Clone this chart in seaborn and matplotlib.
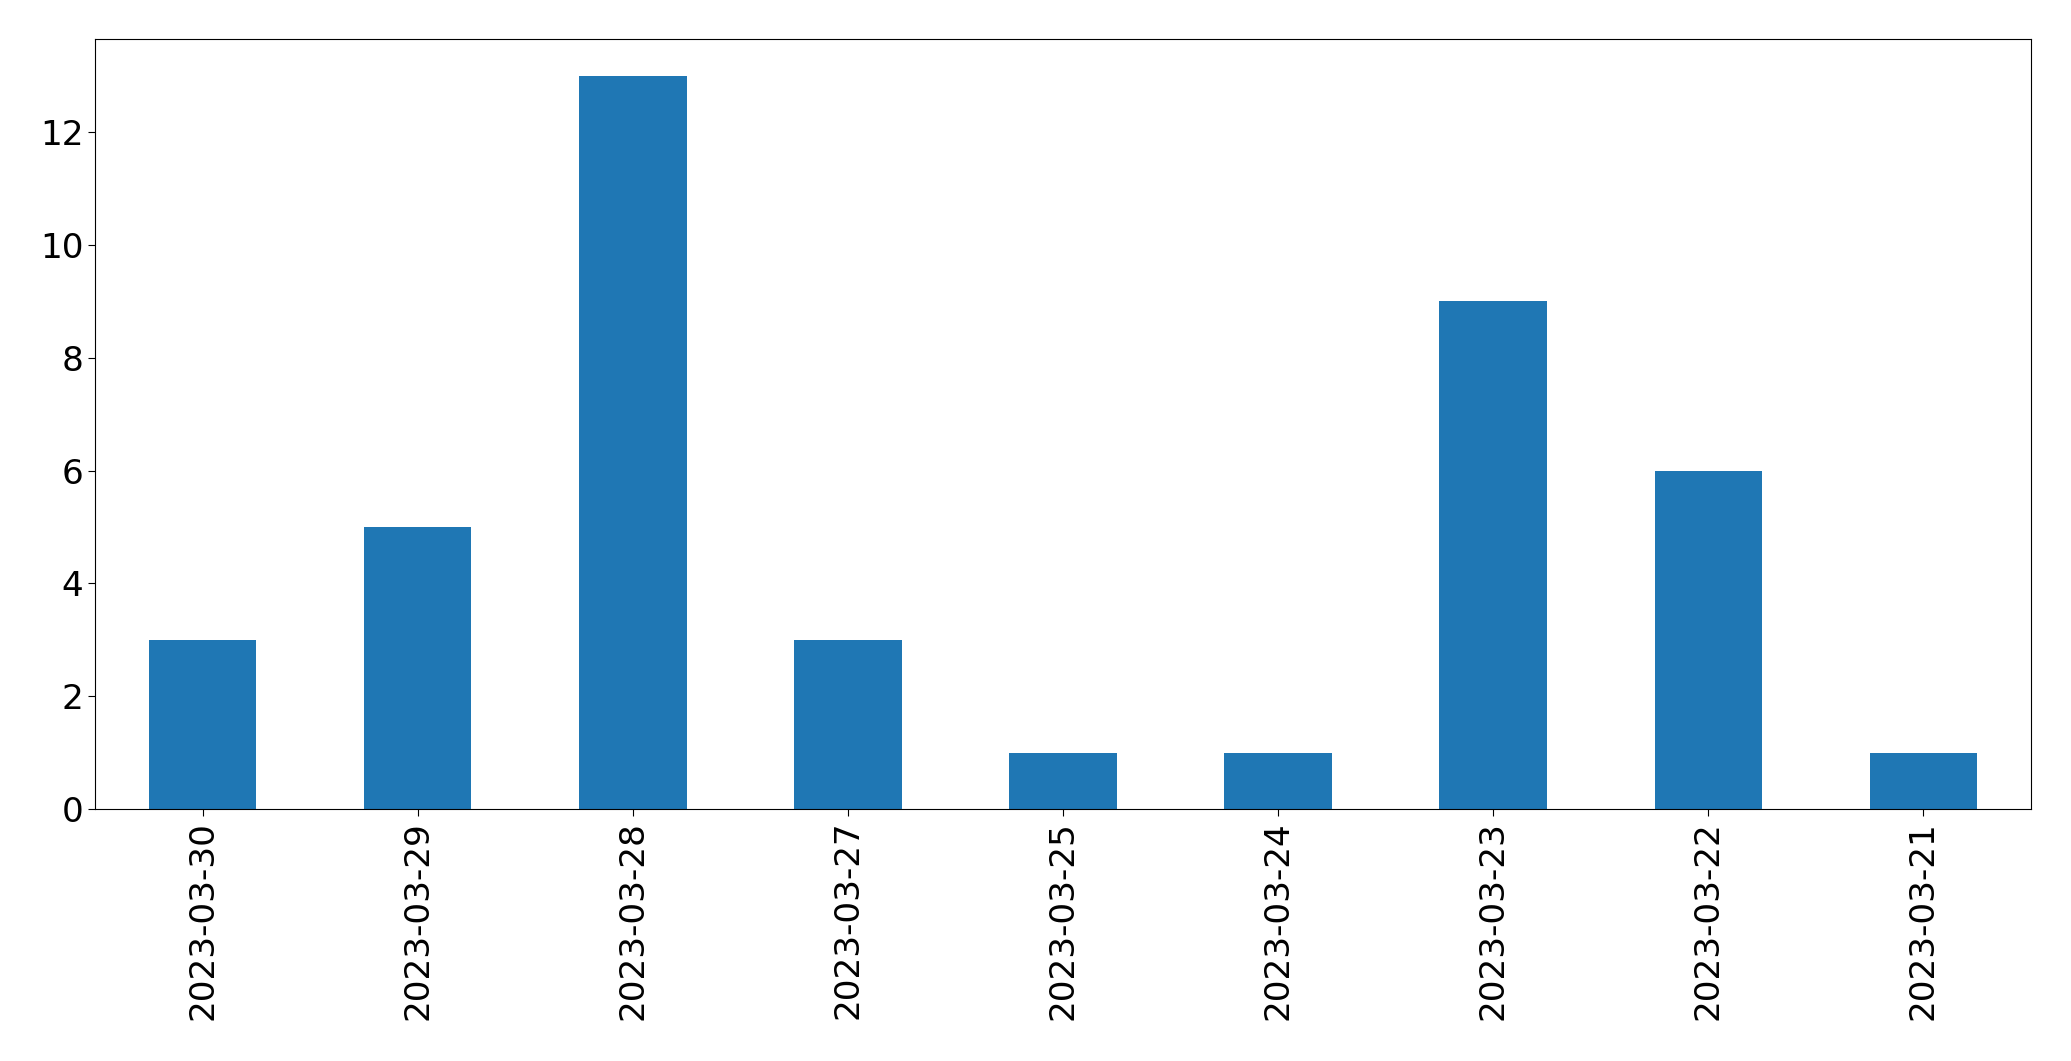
import pandas as pd
import matplotlib
matplotlib.use('Agg')
import matplotlib.pyplot as plt
import seaborn as sns

# 数据
dates = ['2023-03-30', '2023-03-29', '2023-03-28', '2023-03-27', '2023-03-25',
         '2023-03-24', '2023-03-23', '2023-03-22', '2023-03-21']
counts = [3, 5, 13, 3, 1, 1, 9, 6, 1]

data = pd.DataFrame({'date': dates, 'count': counts})

fig = plt.figure(figsize=(20.71, 10.61), dpi=100)
ax = fig.add_axes([0.0459, 0.2375, 0.9348, 0.7255])

sns.barplot(data=data, x='date', y='count', order=dates, color='#1f77b4',
            saturation=1, width=0.5, ax=ax)

ax.set_xlim(-0.5, len(dates) - 0.5)
ax.set_ylim(0, max(counts) * 1.05)
ax.set_xlabel('')
ax.set_ylabel('')
ax.tick_params(axis='both', labelsize=24.7, length=5)
plt.setp(ax.get_xticklabels(), rotation=90)

fig.savefig('out.png', dpi=100)
